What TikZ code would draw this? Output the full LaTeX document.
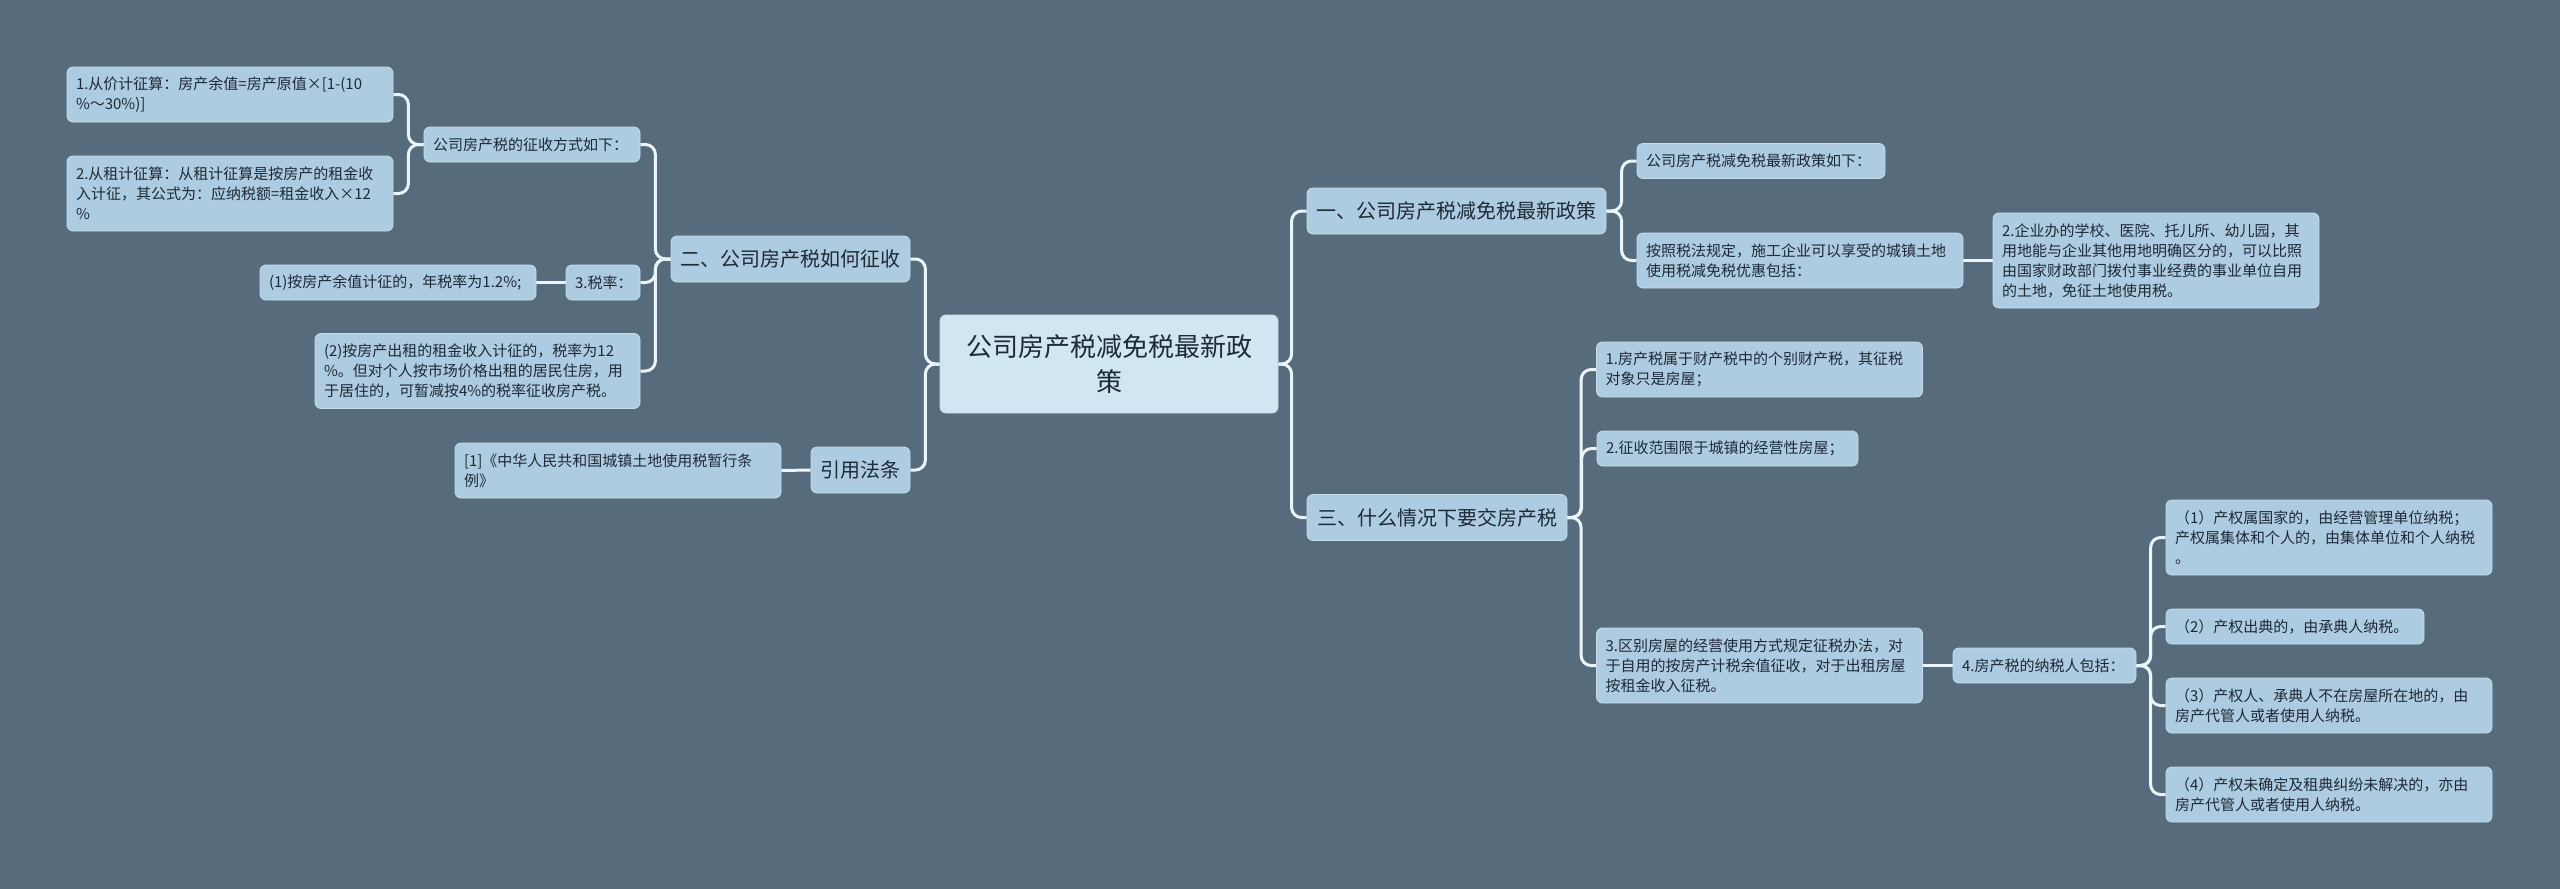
\documentclass[tikz,border=0pt]{standalone}
\usepackage{fontspec}
\setmainfont{Noto Sans CJK SC}
\usetikzlibrary{backgrounds}
\definecolor{bgc}{HTML}{566B7B}
\definecolor{leaffill}{HTML}{ADCBE1}
\definecolor{leafedge}{HTML}{C6DDEC}
\definecolor{rootfill}{HTML}{D0E6F3}
\definecolor{linec}{HTML}{EAF5FB}
\definecolor{txt}{HTML}{1E2A36}
\begin{document}
\begin{tikzpicture}[x=1pt,y=-1pt,
  box/.style={fill=leaffill, draw=leafedge, line width=0.8pt, rounded corners=6pt, text=txt, inner xsep=9pt, inner ysep=2pt, anchor=center},
  leaf/.style={box, font=\fontsize{15}{20}\selectfont, align=left},
  lvl/.style={box, font=\fontsize{20}{24}\selectfont, align=center, inner xsep=0pt, minimum height=46pt},
  rootbox/.style={box, fill=rootfill, font=\fontsize{26}{35}\selectfont, align=center},
  conn/.style={draw=linec, line width=3pt, rounded corners=10pt}]
\useasboundingbox (0,0) rectangle (2560,889);

% root
\node[rootbox, text width=320pt, minimum height=98pt] (root) at (1109,364) {公司房产税减免税最新政\\策};

% level 1
\node[lvl, minimum width=239pt] (L2) at (790.5,259) {二、公司房产税如何征收};
\node[lvl, minimum width=99pt] (Lref) at (860.5,470) {引用法条};
\node[lvl, minimum width=299pt] (L1) at (1456.5,211) {一、公司房产税减免税最新政策};
\node[lvl, minimum width=260pt] (L3) at (1437,517.5) {三、什么情况下要交房产税};

% left leaves
\node[leaf, text width=198pt, minimum height=35pt] (a1) at (532,144.5) {公司房产税的征收方式如下：};
\node[leaf, text width=308pt, minimum height=55pt] (a1a) at (230,94.5) {1.从价计征算：房产余值=房产原值×[1-(10\\\%～30\%)]};
\node[leaf, text width=308pt, minimum height=75pt] (a1b) at (230,193.5) {2.从租计征算：从租计征算是按房产的租金收\\入计征，其公式为：应纳税额=租金收入×12\\\%};
\node[leaf, text width=56pt, minimum height=35pt] (a2) at (603,282.5) {3.税率：};
\node[leaf, text width=258pt, minimum height=35pt] (a2a) at (398,282.5) {(1)按房产余值计征的，年税率为1.2\%;};
\node[leaf, text width=307pt, minimum height=75pt] (a3) at (477.5,371) {(2)按房产出租的租金收入计征的，税率为12\\\%。但对个人按市场价格出租的居民住房，用\\于居住的，可暂减按4\%的税率征收房产税。};
\node[leaf, text width=308pt, minimum height=55pt] (c1) at (618,470.5) {[1]《中华人民共和国城镇土地使用税暂行条\\例》};

% right leaves
\node[leaf, text width=230pt, minimum height=35pt] (b1) at (1761,161) {公司房产税减免税最新政策如下：};
\node[leaf, text width=308pt, minimum height=55pt] (b2) at (1800,260.5) {按照税法规定，施工企业可以享受的城镇土地\\使用税减免税优惠包括：};
\node[leaf, text width=308pt, minimum height=95pt] (b2a) at (2156,260.5) {2.企业办的学校、医院、托儿所、幼儿园，其\\用地能与企业其他用地明确区分的，可以比照\\由国家财政部门拨付事业经费的事业单位自用\\的土地，免征土地使用税。};
\node[leaf, text width=308pt, minimum height=55pt] (d1) at (1759.5,369.5) {1.房产税属于财产税中的个别财产税，其征税\\对象只是房屋；};
\node[leaf, text width=243pt, minimum height=35pt] (d2) at (1727.5,448.5) {2.征收范围限于城镇的经营性房屋；};
\node[leaf, text width=308pt, minimum height=75pt] (d3) at (1759.5,665.5) {3.区别房屋的经营使用方式规定征税办法，对\\于自用的按房产计税余值征收，对于出租房屋\\按租金收入征税。};
\node[leaf, text width=165pt, minimum height=35pt] (d3a) at (2044.5,665.5) {4.房产税的纳税人包括：};
\node[leaf, text width=308pt, minimum height=75pt] (e1) at (2329,537.5) {（1）产权属国家的，由经营管理单位纳税；\\产权属集体和个人的，由集体单位和个人纳税\\。};
\node[leaf, text width=240pt, minimum height=35pt] (e2) at (2295,626.5) {（2）产权出典的，由承典人纳税。};
\node[leaf, text width=308pt, minimum height=55pt] (e3) at (2329,705.5) {（3）产权人、承典人不在房屋所在地的，由\\房产代管人或者使用人纳税。};
\node[leaf, text width=308pt, minimum height=55pt] (e4) at (2329,794.5) {（4）产权未确定及租典纠纷未解决的，亦由\\房产代管人或者使用人纳税。};

\begin{pgfonlayer}{background}
\fill[bgc] (0,0) rectangle (2560,889);
% root left
\draw[conn] (root.west) -| ([xshift=15pt]L2.east) -- (L2.east);
\draw[conn] (root.west) -| ([xshift=15pt]Lref.east) -- (Lref.east);
% root right
\draw[conn] (root.east) -| ([xshift=-15pt]L1.west) -- (L1.west);
\draw[conn] (root.east) -| ([xshift=-15pt]L3.west) -- (L3.west);
% L2 children
\draw[conn] (L2.west) -| ([xshift=15pt]a1.east) -- (a1.east);
\draw[conn] (L2.west) -| ([xshift=15pt]a2.east) -- (a2.east);
\draw[conn] (L2.west) -| ([xshift=15pt]a3.east) -- (a3.east);
\draw[conn] (a1.west) -| ([xshift=15pt]a1a.east) -- (a1a.east);
\draw[conn] (a1.west) -| ([xshift=15pt]a1b.east) -- (a1b.east);
\draw[conn] (a2.west) -- (a2a.east);
\draw[conn] (Lref.west) -- (c1.east);
% L1 children
\draw[conn] (L1.east) -| ([xshift=-15pt]b1.west) -- (b1.west);
\draw[conn] (L1.east) -| ([xshift=-15pt]b2.west) -- (b2.west);
\draw[conn] (b2.east) -- (b2a.west);
% L3 children
\draw[conn] (L3.east) -| ([xshift=-15pt]d1.west) -- (d1.west);
\draw[conn] (L3.east) -| ([xshift=-15pt]d2.west) -- (d2.west);
\draw[conn] (L3.east) -| ([xshift=-15pt]d3.west) -- (d3.west);
\draw[conn] (d3.east) -- (d3a.west);
\draw[conn] (d3a.east) -| ([xshift=-15pt]e1.west) -- (e1.west);
\draw[conn] (d3a.east) -| ([xshift=-15pt]e2.west) -- (e2.west);
\draw[conn] (d3a.east) -| ([xshift=-15pt]e3.west) -- (e3.west);
\draw[conn] (d3a.east) -| ([xshift=-15pt]e4.west) -- (e4.west);
\end{pgfonlayer}
\end{tikzpicture}
\end{document}
